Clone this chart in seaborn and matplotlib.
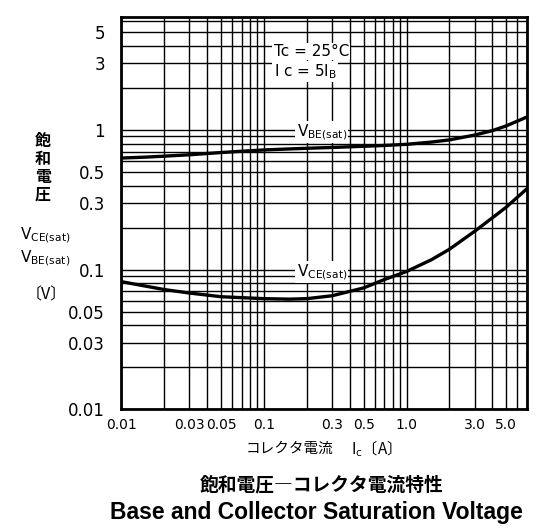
import numpy as np
import pandas as pd
import matplotlib
matplotlib.use("Agg")
import matplotlib.pyplot as plt
import matplotlib.ticker as mticker
import seaborn as sns

# ---- data ----
ic = [0.01, 0.015, 0.02, 0.03, 0.05, 0.07, 0.1, 0.15, 0.2, 0.3, 0.5, 0.7, 1.0, 1.5, 2.0, 3.0, 4.0, 5.0, 7.0]
vbe_sat = [0.63, 0.64, 0.65, 0.665, 0.69, 0.705, 0.72, 0.732, 0.74, 0.75, 0.765, 0.775, 0.79, 0.82,
           0.85, 0.92, 0.99, 1.07, 1.24]
vce_sat = [0.082, 0.076, 0.072, 0.068, 0.064, 0.063, 0.062, 0.0615, 0.062, 0.065, 0.074, 0.085, 0.097,
           0.118, 0.14, 0.188, 0.235, 0.28, 0.38]

x_ticks = [0.01, 0.03, 0.05, 0.1, 0.3, 0.5, 1.0, 3.0, 5.0]
x_ticklabels = ["0.01", "0.03", "0.05", "0.1", "0.3", "0.5", "1.0", "3.0", "5.0"]
y_ticks = [0.01, 0.03, 0.05, 0.1, 0.3, 0.5, 1, 3, 5]
y_ticklabels = ["0.01", "0.03", "0.05", "0.1", "0.3", "0.5", "1", "3", "5"]

df = pd.DataFrame({"Ic": ic * 2,
                   "V": vbe_sat + vce_sat,
                   "curve": ["VBE"] * len(ic) + ["VCE"] * len(ic)})

sns.set_style("white")
plt.rcParams["font.family"] = ["DejaVu Sans", "Noto Sans CJK JP"]
plt.rcParams["mathtext.fontset"] = "custom"
plt.rcParams["mathtext.rm"] = "DejaVu Sans"
plt.rcParams["mathtext.bf"] = "DejaVu Sans:bold"
plt.rcParams["text.color"] = "black"
plt.rcParams["xtick.color"] = "black"
plt.rcParams["ytick.color"] = "black"
plt.rcParams["xtick.labelcolor"] = "black"
plt.rcParams["ytick.labelcolor"] = "black"

fig = plt.figure(figsize=(5.39, 5.29), dpi=100)
ax = fig.add_axes([0.2254, 0.2263, 0.7523, 0.7407])

sns.lineplot(data=df, x="Ic", y="V", hue="curve", palette=["black", "black"],
             linewidth=2.4, legend=False, ax=ax, zorder=5)

ax.set_xscale("log")
ax.set_yscale("log")
ax.set_xlim(0.01, 7.0)
ax.set_ylim(0.01, 6.4)

ax.xaxis.set_minor_locator(mticker.LogLocator(base=10, subs=np.arange(1, 10), numticks=20))
ax.yaxis.set_minor_locator(mticker.LogLocator(base=10, subs=np.arange(1, 10), numticks=20))
ax.set_xticks(x_ticks)
ax.set_xticklabels(x_ticklabels)
ax.set_yticks(y_ticks)
ax.set_yticklabels(y_ticklabels)
ax.xaxis.set_minor_formatter(mticker.NullFormatter())
ax.yaxis.set_minor_formatter(mticker.NullFormatter())

ax.grid(which="both", color="black", linewidth=1.0)
ax.set_axisbelow(True)
ax.tick_params(which="both", length=0, labelcolor="black")
ax.tick_params(axis="x", labelsize=10, pad=6)
ax.tick_params(axis="y", labelsize=12, pad=12)
for s in ax.spines.values():
    s.set_color("black")
    s.set_linewidth(2.0)
ax.set_xlabel("")
ax.set_ylabel("")

box = dict(facecolor="white", edgecolor="none", pad=1.0)
ax.text(0.494, 0.708, r"V$_{\mathrm{BE(sat)}}$", transform=ax.transAxes,
        ha="center", va="center", fontsize=11, bbox=box, zorder=6)
ax.text(0.494, 0.350, r"V$_{\mathrm{CE(sat)}}$", transform=ax.transAxes,
        ha="center", va="center", fontsize=11, bbox=box, zorder=6)
ax.text(0.375, 0.913, "Tc = 25°C", transform=ax.transAxes,
        ha="left", va="center", fontsize=11, bbox=box, zorder=6)
ax.text(0.375, 0.862, r"I c = 5I$_{\mathrm{B}}$", transform=ax.transAxes,
        ha="left", va="center", fontsize=11, bbox=box, zorder=6)

# y-axis annotations
cjk = ["Noto Sans CJK JP", "DejaVu Sans"]
for i, ch in enumerate("飽和電圧"):
    fig.text(43 / 539, 1 - (141 + i * 18) / 529, ch, ha="center", va="center",
             fontsize=11.5, family=cjk, fontweight="bold")
fig.text(20 / 539, 1 - 235 / 529, r"V$_{\mathrm{CE(sat)}}$", ha="left", va="center", fontsize=11)
fig.text(20 / 539, 1 - 258 / 529, r"V$_{\mathrm{BE(sat)}}$", ha="left", va="center", fontsize=11)
fig.text(46 / 539, 1 - 295 / 529, "〔V〕", ha="center", va="center", fontsize=11.5, family=cjk)

# x-axis label
fig.text(290 / 539, 1 - 449 / 529, "コレクタ電流", ha="center", va="center", fontsize=10.5, family=cjk)
fig.text(372 / 539, 1 - 449 / 529, r"I$_{\mathrm{c}}$〔A〕", ha="center", va="center", fontsize=11,
         family=cjk)

# titles
fig.text(322 / 539, 1 - 485 / 529, "飽和電圧―コレクタ電流特性", ha="center", va="center",
         fontsize=13.5, family=cjk, fontweight="bold")
fig.text(316 / 539, 1 - 512 / 529, "Base and Collector Saturation Voltage", ha="center",
         va="center", fontsize=16.5, fontweight="bold", family=["Liberation Sans", "DejaVu Sans"])

fig.savefig("out.png", dpi=100, facecolor="white")
